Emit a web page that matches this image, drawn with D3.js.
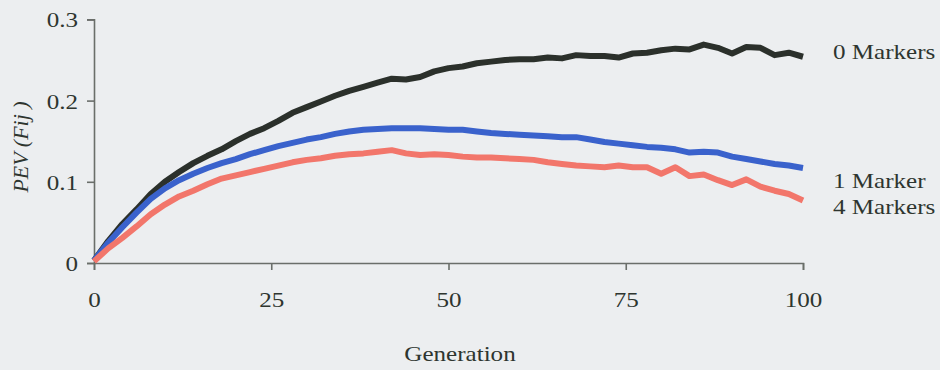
<!DOCTYPE html>
<html>
<head>
<meta charset="utf-8">
<script src="https://cdn.jsdelivr.net/npm/d3@7"></script>
<style>
  html, body { margin: 0; padding: 0; background: #eceef0; }
  svg { display: block; }
</style>
</head>
<body>
<svg id="chart" width="940" height="370"></svg>
<script>
// ---- data ----
const generations = d3.range(0, 101, 2);
const zeroMarkers = [0.003,0.027,0.048,0.066,0.085,0.100,0.112,0.123,0.132,0.140,0.150,0.159,0.166,0.175,0.185,0.192,0.199,0.206,0.212,0.217,0.222,0.227,0.226,0.229,0.236,0.240,0.242,0.246,0.248,0.250,0.251,0.251,0.253,0.252,0.256,0.255,0.255,0.253,0.258,0.259,0.262,0.264,0.263,0.269,0.265,0.258,0.266,0.265,0.256,0.259,0.254];
const oneMarker = [0.003,0.025,0.044,0.062,0.079,0.092,0.102,0.110,0.117,0.123,0.128,0.134,0.139,0.144,0.148,0.152,0.155,0.159,0.162,0.164,0.165,0.166,0.166,0.166,0.165,0.164,0.164,0.162,0.160,0.159,0.158,0.157,0.156,0.155,0.155,0.152,0.149,0.147,0.145,0.143,0.142,0.140,0.136,0.137,0.136,0.131,0.128,0.125,0.122,0.120,0.117];
const fourMarkers = [0.002,0.018,0.031,0.045,0.060,0.072,0.082,0.089,0.097,0.104,0.108,0.112,0.116,0.120,0.124,0.127,0.129,0.132,0.134,0.135,0.137,0.139,0.135,0.133,0.134,0.133,0.131,0.130,0.130,0.129,0.128,0.127,0.124,0.122,0.120,0.119,0.118,0.120,0.118,0.118,0.110,0.118,0.107,0.109,0.102,0.096,0.103,0.094,0.089,0.085,0.077];
const seriesNames = ["0 Markers", "1 Marker", "4 Markers"];
const xTicks = [0, 25, 50, 75, 100];
const yTicks = [0, 0.1, 0.2, 0.3];
const yTickLabels = ["0", "0.1", "0.2", "0.3"];
const xTitle = "Generation";
const yTitle = "PEV (Fij )";

// ---- layout ----
const svg = d3.select("#chart");
const X0 = 94, X1 = 803, Y0 = 263, Y1 = 19.4;
const SX = 1.14; // horizontal glyph stretch seen in the reference
const textColor = "#2e352f";
const font = "'Liberation Serif','Times New Roman',serif";

const x = d3.scaleLinear().domain([0, 100]).range([X0, X1]);
const y = d3.scaleLinear().domain([0, 0.3]).range([Y0, Y1]);

svg.append("rect").attr("width", 940).attr("height", 370).attr("fill", "#eceef0");

// axes
const yAxis = svg.append("g").attr("transform", `translate(${X0},0)`)
  .call(d3.axisLeft(y).tickValues(yTicks).tickSize(7).tickPadding(0)
        .tickFormat((d, i) => yTickLabels[i]));
const xAxis = svg.append("g").attr("transform", `translate(0,${Y0})`)
  .call(d3.axisBottom(x).tickValues(xTicks).tickSize(7).tickPadding(0));

[yAxis, xAxis].forEach(g => {
  g.select(".domain").attr("stroke", "#6a6e6a").attr("stroke-width", 1.6);
  g.selectAll(".tick line").attr("stroke", "#6a6e6a").attr("stroke-width", 1.6);
  g.selectAll(".tick text").attr("fill", textColor)
    .style("font-family", font).style("font-size", "22px");
});
yAxis.selectAll(".tick text").attr("x", -16 / SX).attr("dy", "0.34em")
  .attr("transform", `scale(${SX},1)`);
xAxis.selectAll(".tick text").attr("y", 0).attr("dy", 44)
  .attr("transform", `scale(${SX},1)`);

// lines
const line = d3.line().x((d, i) => x(generations[i])).y(d => y(d));
const seriesData = [zeroMarkers, oneMarker, fourMarkers];
const colors = ["#2b302b", "#3a62cc", "#f2766b"];
svg.append("g").selectAll("path").data(seriesData).join("path")
  .attr("d", line)
  .attr("fill", "none")
  .attr("stroke", (d, i) => colors[i])
  .attr("stroke-width", 6)
  .attr("stroke-linejoin", "round")
  .attr("stroke-linecap", "butt");

// series labels at right
const labelY = [59, 188, 214];
svg.append("g").selectAll("text").data(seriesNames).join("text")
  .attr("transform", (d, i) => `translate(833,${labelY[i]}) scale(${SX},1)`)
  .attr("fill", textColor)
  .style("font-family", font).style("font-size", "22px")
  .text(d => d);

// axis titles
svg.append("text")
  .attr("transform", `translate(460,361) scale(${SX},1)`)
  .attr("text-anchor", "middle")
  .attr("fill", textColor)
  .style("font-family", font).style("font-size", "22px")
  .text(xTitle);

svg.append("text")
  .attr("transform", `translate(28,147) rotate(-90)`)
  .attr("text-anchor", "middle")
  .attr("fill", textColor)
  .style("font-family", font).style("font-size", "22px").style("font-style", "italic")
  .text(yTitle);
</script>
</body>
</html>
